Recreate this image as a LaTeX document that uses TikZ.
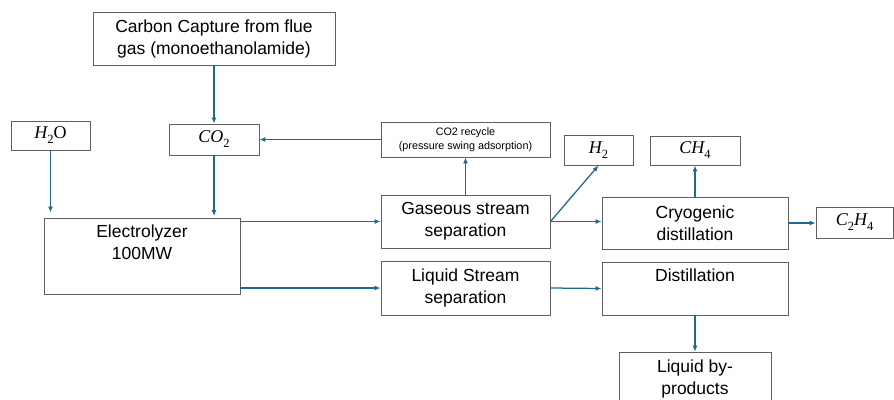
\documentclass[tikz,border=0pt]{standalone}
\usepackage{fontspec}
\setsansfont{Liberation Sans}
\newfontfamily\mserif{Liberation Serif}
\newcommand\vi[1]{{\mserif\itshape #1}}
\newcommand\sbs[1]{\raisebox{-0.28em}{\mserif\fontsize{12.5}{12}\selectfont #1}}
\usetikzlibrary{arrows.meta}
\definecolor{boxgray}{RGB}{95,95,95}
\definecolor{arrblue}{RGB}{32,105,140}
\tikzset{
  box/.style={draw=boxgray, line width=0.9pt, inner sep=0pt, align=center,
    font=\sffamily\fontsize{17.5}{22}\selectfont},
  small/.style={font=\sffamily\fontsize{10.8}{13.5}\selectfont},
  mathbox/.style={font=\mserif\fontsize{18}{22}\selectfont},
  txt/.style={inner sep=0pt, align=center, font=\sffamily\fontsize{17.5}{22}\selectfont},
  arr/.style={draw=arrblue, line width=1.25pt, -{Latex[length=6pt,width=5pt]}}
}
\begin{document}
\begin{tikzpicture}[x=1pt,y=-1pt]
\useasboundingbox (0,0) rectangle (894,399);
\clip (0,0) rectangle (894,399);
\node[box, minimum width=242pt, minimum height=53pt] (cc) at (214,38.5) {Carbon Capture from flue\\gas (monoethanolamide)};
\node[box, mathbox, minimum width=79pt, minimum height=29pt] (h2o) at (50.5,135.5) {\vi{H}\sbs{2}O};
\node[box, mathbox, minimum width=90pt, minimum height=31pt] (co2) at (214,139.5) {\vi{CO}\sbs{2}};
\node[box, small, minimum width=169pt, minimum height=35pt] (rec) at (465.5,139.5) {CO2 recycle\\(pressure swing adsorption)};
\node[box, minimum width=196pt, minimum height=76pt] (elec) at (142,256) {};
\node[txt, anchor=north] (electxt) at ([yshift=-7pt]elec.north) {Electrolyzer\\100MW};
\node[box, minimum width=169pt, minimum height=53pt] (gas) at (465.5,221.5) {Gaseous stream\\separation};
\node[box, minimum width=169pt, minimum height=54pt] (liq) at (465.5,288) {Liquid Stream\\separation};
\node[box, mathbox, minimum width=69pt, minimum height=30pt] (h2) at (598.5,150) {\vi{H}\sbs{2}};
\node[box, mathbox, minimum width=90pt, minimum height=29pt] (ch4) at (695,150.5) {\vi{CH}\sbs{4}};
\node[box, minimum width=186pt, minimum height=52pt] (cryo) at (695,223) {Cryogenic\\distillation};
\node[box, mathbox, minimum width=77pt, minimum height=31pt] (c2h4) at (854.5,222.5) {\vi{C}\sbs{2}\vi{H}\sbs{4}};
\node[box, minimum width=186pt, minimum height=53pt] (dist) at (695,288.5) {};
\node[txt, anchor=north] (disttxt) at ([yshift=-7pt]dist.north) {Distillation};
\node[box, minimum width=152pt, minimum height=53pt] (byp) at (695,378.5) {Liquid by-\\products};

\draw[arr] (cc) -- (co2);
\draw[arr] (rec) -- (co2);
\draw[arr, shorten >=5pt] (h2o.south) -- (h2o.south |- elec.north);
\draw[arr, shorten >=1.5pt] (co2.south) -- (co2.south |- elec.north);
\draw[arr] (elec.north east |- gas.west) -- (gas.west);
\draw[arr] (elec.east |- liq.west) -- (liq.west);
\draw[arr] (gas.north) -- (rec.south);
\draw[arr] (gas.east) -- (h2.south);
\draw[arr] (gas.east) -- (gas.east -| cryo.west);
\draw[arr] (cryo.north) -- (ch4.south);
\draw[arr] (cryo.east) -- (cryo.east -| c2h4.west);
\draw[arr] (liq.east) -- (dist.west);
\draw[arr] (dist.south) -- (byp.north);
\end{tikzpicture}
\end{document}
